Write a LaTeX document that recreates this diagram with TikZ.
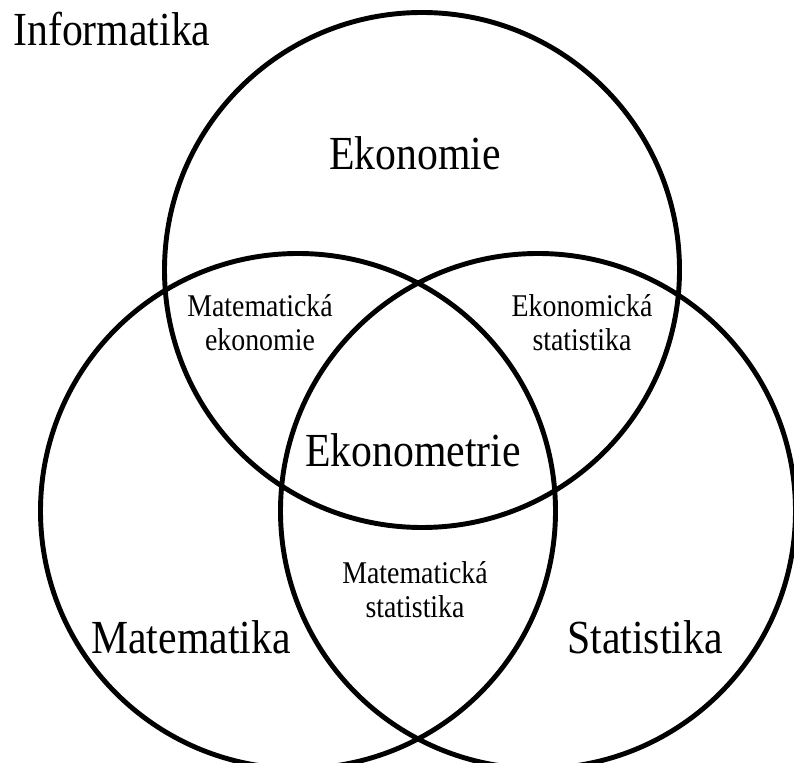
\documentclass[tikz,border=0pt]{standalone}
\usepackage{fontspec}
\setmainfont{Liberation Serif}[FakeStretch=0.88]
\usepackage{tikz}

\begin{document}
\begin{tikzpicture}[scale=1.0,
  big/.style={inner sep=0pt,font=\fontsize{27}{29}\selectfont},
  small/.style={inner sep=0pt,align=center,font=\fontsize{18}{19.3}\selectfont}]
\clip (0,0) rectangle (15.88,15.24);
\fill[white] (0,0) rectangle (15.88,15.24);
% the three sets
\coordinate (ekon) at (8.44,9.84);
\coordinate (mat) at (5.96,5.02);
\coordinate (stat) at (10.76,5.02);
\draw[line width=2.8pt] (ekon) circle (5.15);
\draw[line width=2.8pt] (mat) circle (5.15);
\draw[line width=2.8pt] (stat) circle (5.15);
% labels
\node[big,anchor=base west] (inf) at (0.26,14.32) {Informatika};
\node[big] (ekonomie) at (8.30,12.18) {Ekonomie};
\node[small] (matekon) at (5.20,8.78) {Matematická\\ekonomie};
\node[small] (ekonstat) at (11.64,8.78) {Ekonomická\\statistika};
\node[big] (ekonometrie) at (8.26,6.24) {Ekonometrie};
\node[small] (matstat) at (8.30,3.44) {Matematická\\statistika};
\node[big] (matematika) at (3.82,2.50) {Matematika};
\node[big] (statistika) at (12.90,2.50) {Statistika};
\end{tikzpicture}
\end{document}
